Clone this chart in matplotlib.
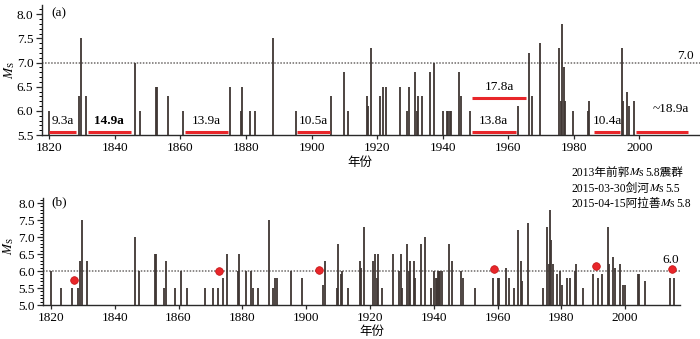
import matplotlib
matplotlib.use('Agg')
import matplotlib.pyplot as plt
from matplotlib.ticker import MultipleLocator
from matplotlib.offsetbox import TextArea, HPacker, AnnotationBbox

plt.rcParams['font.family'] = ['Liberation Serif', 'Noto Sans CJK SC']
plt.rcParams['mathtext.fontset'] = 'stix'

# ---------------- data ----------------
event_years = [1820.0, 1823.1, 1826.6, 1828.6, 1829.2, 1829.8, 1831.3, 1846.2, 1847.6,
               1852.6, 1852.9, 1855.3, 1856.2, 1858.8, 1860.9, 1862.5, 1868.3, 1870.9,
               1872.3, 1874.0, 1875.1, 1878.6, 1878.8, 1881.1, 1882.7, 1883.2, 1885.0,
               1888.2, 1889.7, 1890.3, 1890.9, 1895.2, 1898.6, 1905.4, 1906.0, 1909.7,
               1910.0, 1910.8, 1911.2, 1913.2, 1917.0, 1917.3, 1918.0, 1920.9, 1921.7,
               1922.1, 1922.6, 1923.8, 1927.1, 1929.1, 1929.7, 1929.9, 1931.6, 1932.2,
               1932.5, 1933.7, 1934.1, 1936.0, 1937.4, 1939.0, 1940.0, 1940.6, 1941.0,
               1941.2, 1941.6, 1942.1, 1942.5, 1944.9, 1945.6, 1948.4, 1949.2, 1952.8,
               1958.7, 1960.2, 1960.5, 1962.8, 1963.7, 1965.2, 1966.3, 1967.2, 1967.8,
               1969.7, 1974.3, 1975.4, 1976.2, 1976.5, 1976.9, 1977.4, 1978.6, 1979.7,
               1980.1, 1981.7, 1982.7, 1984.3, 1984.7, 1986.7, 1990.0, 1991.6, 1992.8,
               1994.7, 1995.0, 1996.3, 1996.8, 1998.4, 1999.2, 1999.9, 2003.9, 2004.4,
               2006.2, 2014.0, 2015.4]
event_mags = [6.0, 5.5, 5.5, 5.5, 6.3, 7.5, 6.3, 7.0, 6.0,
              6.5, 6.5, 5.5, 6.3, 5.5, 6.0, 5.5, 5.5, 5.5,
              5.5, 5.8, 6.5, 6.0, 6.5, 6.0, 6.0, 5.5, 5.5,
              7.5, 5.5, 5.8, 5.8, 6.0, 5.8, 5.6, 6.3, 5.5,
              6.8, 5.9, 6.0, 5.5, 6.3, 6.1, 7.3, 6.3, 6.5,
              5.8, 6.5, 5.5, 6.5, 6.0, 6.5, 5.5, 6.8, 6.0,
              6.3, 6.3, 5.8, 6.8, 7.0, 5.5, 6.0, 5.8, 5.8,
              6.0, 6.0, 6.0, 6.0, 6.8, 6.3, 6.0, 5.8, 5.5,
              5.8, 5.8, 5.8, 6.1, 5.8, 5.5, 7.2, 6.3, 5.7,
              7.4, 5.5, 7.3, 6.2, 7.8, 6.9, 6.2, 5.9, 6.0,
              5.6, 5.8, 5.8, 6.0, 6.2, 5.5, 5.9, 5.8, 5.9,
              7.3, 6.2, 6.4, 6.1, 6.2, 5.6, 5.6, 5.9, 5.9,
              5.7, 5.8, 5.8]

dot_years = [1827.3, 1872.6, 1904.1, 1959.0, 1990.8, 2014.6]
dot_mags = [5.74, 6.00, 6.03, 6.06, 6.15, 6.06]

interval_starts = [1820.0, 1831.7, 1861.4, 1895.5, 1949.0, 1949.0, 1986.0, 1998.8]
interval_ends = [1828.2, 1844.9, 1874.6, 1905.5, 1965.3, 1962.2, 1994.2, 2014.8]
interval_levels = [5.57, 5.57, 5.57, 5.57, 6.27, 5.57, 5.57, 5.57]
interval_labels = ['9.3a', '14.9a', '13.9a', '10.5a', '17.8a', '13.8a', '10.4a', '~18.9a']

threshold_a = 7.0
threshold_b = 6.0
min_mag_a = 6.0

yticks_a = [5.5, 6.0, 6.5, 7.0, 7.5, 8.0]
yticks_b = [5.0, 5.5, 6.0, 6.5, 7.0, 7.5, 8.0]
xticks = [1820, 1840, 1860, 1880, 1900, 1920, 1940, 1960, 1980, 2000]

event_notes = [('2013年前郭', '5.8震群'), ('2015-03-30剑河', '5.5'), ('2015-04-15阿拉善', '5.8')]

# ---------------- style ----------------
bar_color = '#3f3633'
red = '#e8262a'
ref_color = '#6e6a68'
fs = 9.5

fig = plt.figure(figsize=(7.0, 3.39), dpi=100)
W, H = 700.0, 339.0

def px_axes(l, r, top, bottom):
    return fig.add_axes([l / W, 1 - bottom / H, (r - l) / W, (bottom - top) / H])

ax_a = px_axes(41.7, 699.5, 5, 135)
ax_b = px_axes(43, 680, 198, 305)

def style(ax, ylim, xlim, yticks):
    ax.set_xlim(*xlim)
    ax.set_ylim(*ylim)
    for s in ['top', 'right']:
        ax.spines[s].set_visible(False)
    for s in ['left', 'bottom']:
        ax.spines[s].set_color('#2a2a2a')
        ax.spines[s].set_linewidth(1.0)
    ax.set_xticks(xticks)
    ax.set_yticks(yticks)
    ax.set_yticklabels([f'{v:.1f}' for v in yticks])
    ax.yaxis.set_minor_locator(MultipleLocator(0.1))
    ax.tick_params(axis='both', direction='out', labelsize=fs, colors='#2a2a2a',
                   labelcolor='black', width=0.9)
    ax.tick_params(axis='y', which='major', length=4, pad=2)
    ax.tick_params(axis='y', which='minor', length=2, width=0.7)
    ax.tick_params(axis='x', which='major', length=3, pad=2)

# ----- panel (a) -----
style(ax_a, (5.5, 8.19), (1817.7, 2018.3), yticks_a)
ya = [(y, m) for y, m in zip(event_years, event_mags) if m >= min_mag_a]
ax_a.vlines([y for y, m in ya], 5.5, [m for y, m in ya], color=bar_color, lw=1.3, zorder=3)
ax_a.axhline(threshold_a, color=ref_color, lw=1.1, ls=(0, (1, 1)), zorder=2)
ax_a.text(2014.0, threshold_a + 0.14, f'{threshold_a:.1f}', ha='center', va='center', fontsize=fs)
for s, e, lv, lab in zip(interval_starts, interval_ends, interval_levels, interval_labels):
    ax_a.plot([s, e], [lv, lv], color=red, lw=2.2, solid_capstyle='butt', zorder=4)
    xm = (s + e) / 2
    dy = 0.23 if lab != '~18.9a' else 0.46
    if lab == '~18.9a':
        xm += 2.7
    ax_a.text(xm, lv + dy, lab, ha='center', va='center', fontsize=fs,
              fontweight='bold' if lab == '14.9a' else 'normal', zorder=5)
ax_a.set_ylabel(r'$M_\mathrm{S}$', fontsize=fs)
ax_a.yaxis.set_label_coords(-0.037, 0.5)
ax_a.text(0.4835, -0.215, '年份', transform=ax_a.transAxes, ha='center', va='center', fontsize=9)

# ----- panel (b) -----
style(ax_b, (5.0, 8.15), (1817.5, 2017.2), yticks_b)
ax_b.vlines(event_years, 5.0, event_mags, color=bar_color, lw=1.3, zorder=3)
ax_b.axhline(threshold_b, color=ref_color, lw=1.1, ls=(0, (1, 1)), zorder=2)
ax_b.plot(dot_years, dot_mags, 'o', color=red, markersize=5.5, markeredgecolor='#c01010',
          markeredgewidth=0.5, zorder=5)
ax_b.text(2014.4, threshold_b + 0.33, f'{threshold_b:.1f}', ha='center', va='center', fontsize=fs)
ax_b.set_ylabel(r'$M_\mathrm{S}$', fontsize=fs)
ax_b.yaxis.set_label_coords(-0.043, 0.55)
ax_b.text(0.516, -0.252, '年份', transform=ax_b.transAxes, ha='center', va='center', fontsize=9)

# panel letters
fig.text(59 / W, 1 - 13 / H, '(a)', ha='center', va='center', fontsize=fs)
fig.text(59 / W, 1 - 202 / H, '(b)', ha='center', va='center', fontsize=fs)

# event notes (top right of panel b)
note_y = [339 - 173, 339 - 189, 339 - 204]
for (pre, post), yy in zip(event_notes, note_y):
    tp = dict(fontsize=8.4)
    box = HPacker(children=[TextArea(pre, textprops=tp),
                            TextArea(r'$M_\mathrm{S}$', textprops=tp),
                            TextArea(post, textprops=tp)],
                  align='baseline', pad=0, sep=0)
    ab = AnnotationBbox(box, (571, yy), xycoords='figure pixels', box_alignment=(0, 0.5),
                        frameon=False, pad=0)
    fig.add_artist(ab)

fig.savefig('out.png', dpi=100)
